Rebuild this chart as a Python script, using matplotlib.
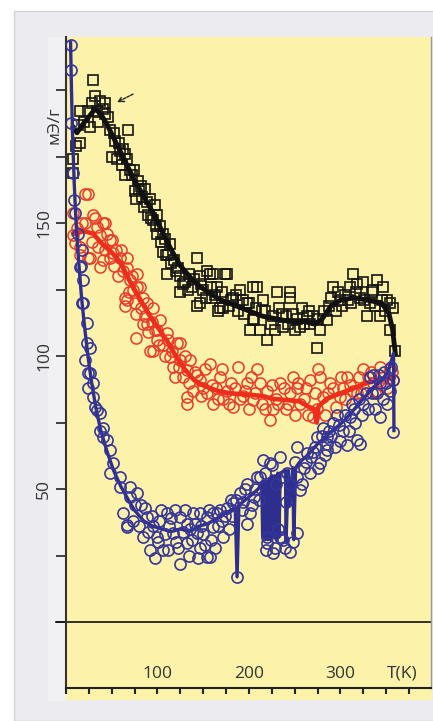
import matplotlib.pyplot as plt
from matplotlib.patches import Rectangle
from matplotlib.transforms import blended_transform_factory

# black squares (T, value)
black_t = [8, 8, 11, 13, 15, 15, 24, 28, 29.5, 32, 34, 37, 43, 43, 48, 50, 54, 56, 59, 61,
           64, 68, 70, 75, 79, 83, 86, 90, 92, 97, 100, 103, 106, 106, 108, 110, 114, 125, 125, 143,
           143, 146, 146, 154, 157, 161, 165, 166, 168, 174, 176, 183, 190, 198, 201, 204, 204, 209, 212, 215,
           220, 226, 231, 237, 245, 245, 248, 256, 263, 267, 274, 278, 285, 292, 299, 310, 314, 321, 325, 329,
           340, 343, 347, 351, 354, 354, 360,
           65, 72, 80, 88, 95, 100, 112, 118, 120, 130, 135, 138, 150, 160, 170, 178, 188, 193, 208, 218,
           224, 233, 240, 252, 258, 270, 282, 288, 295, 305, 317, 332, 336, 357,
           20, 26, 35, 40, 46, 52, 58, 62, 67, 74, 77, 82, 85, 93, 98, 104, 109, 115, 122, 128,
           133, 140, 148, 153, 158, 163, 172, 180, 186, 195, 200, 206, 214, 228, 236, 243, 250, 260, 266, 276,
           290, 297, 302, 308, 312, 318, 326, 334, 338, 345, 349]
black_v = [174, 169, 179, 187, 192, 180, 192, 195, 204, 198, 192, 196, 195, 191, 185, 175, 181, 174, 177, 172,
           168, 185, 170, 162, 166, 160, 163, 153, 159, 157, 153, 149, 146, 139, 144, 131, 142, 124, 130, 137,
           119, 130, 120, 132, 131, 131, 126, 117, 118, 131, 131, 122, 125, 120, 110, 126, 113.5, 126, 110, 121,
           106, 115, 124, 111, 122, 124, 116, 111, 115, 112, 103, 110, 113.5, 126, 121, 126, 131, 122, 128, 115,
           128.5, 115, 126, 121, 120, 110, 102,
           176, 168, 163, 158, 151, 146, 138, 136, 132, 128, 131, 126, 125, 122, 124, 119, 117, 121, 118, 117,
           112, 118, 115, 114, 118, 115, 117, 119, 117, 123, 124, 120, 125, 118,
           188, 186, 188, 193, 190, 184, 180, 178, 174, 170, 159, 164, 156, 152, 149, 143, 138, 135, 133, 127,
           125, 129, 127, 122, 126, 123, 118, 121, 123, 116, 120, 114, 117, 110, 116, 112, 110, 112, 117, 114,
           122, 124, 119, 121, 120, 127, 121, 124, 119, 121, 117]
black_line_t = [8, 12, 18, 25, 32, 38, 45, 55, 65, 75, 85, 95, 105, 115, 125, 140, 155, 170, 185, 200,
                215, 230, 245, 260, 272, 280, 290, 300, 315, 330, 345, 353, 357, 360]
black_line_v = [186, 184, 187, 190, 193, 191, 187, 180, 173, 166, 160, 154, 147, 140, 134, 128, 124, 121, 119, 117,
                115, 114, 113, 113, 112, 114, 119, 121, 122, 121, 120, 116, 110, 101]

# red circles
red_t = [8, 8, 10, 15, 15, 21, 21, 24, 24, 26, 32, 34, 37, 37, 40, 40, 43, 43, 48, 48,
         50, 51, 59, 62, 64, 64, 67, 67, 67, 70, 77, 77, 78, 78, 81, 84, 84, 88, 88, 92,
         95, 95, 99, 103, 110, 114, 117, 121, 125, 125, 132, 132, 132, 136, 139, 146, 154, 157, 161, 168,
         176, 183, 188, 198, 204, 209, 220, 223, 226, 234, 245, 248, 256, 267, 270, 278, 281, 292, 299, 307,
         314, 325, 336, 343, 351, 354, 358,
         55, 73, 100, 106, 128, 143, 150, 164, 172, 180, 193, 200, 214, 230, 240, 252, 260, 274, 286, 303,
         318, 330, 340, 347,
         12, 18, 28, 30, 35, 45, 53, 57, 60, 69, 72, 75, 82, 86, 90, 94, 97, 102, 108, 112,
         116, 119, 123, 130, 135, 141, 148, 152, 160, 166, 170, 178, 185, 190, 196, 202, 207, 212, 218, 225,
         232, 238, 243, 250, 254, 262, 265, 272, 276, 283, 289, 295, 301, 305, 310, 320, 323, 333, 338, 345, 356]
red_v = [154, 145.5, 142.5, 141, 138, 161, 150, 161, 137, 137, 152, 148.5, 145.5, 133.5, 150, 136, 150, 140, 143.6, 137,
         143.6, 138.7, 137, 132, 122, 119, 137, 133, 121, 128.6, 116, 107, 131, 126, 126, 122, 112, 120, 112, 102,
         118, 102, 106, 113.5, 108.6, 99.6, 96, 105, 98.5, 105, 94.7, 82, 84.6, 98.5, 87, 91, 86, 97, 82, 92,
         87, 81, 96, 90, 83.5, 95, 87, 76, 80, 90, 86, 92, 82, 91, 77, 92, 84.6, 88, 84.6, 92,
         87, 95, 90, 96, 88, 95, 91,
         140, 125, 110, 104, 92, 93, 88, 88, 84, 90, 85, 80, 82, 84, 80, 88, 84, 80, 86, 88,
         86, 92, 87, 92,
         148, 150, 143, 153, 141, 146, 134, 130, 140, 124, 130, 120, 118, 115, 109, 113, 110, 104, 100, 106,
         102, 92, 96, 100, 90, 94, 85, 95, 89, 84, 95, 82, 88, 84, 87, 92, 86, 90, 80, 89,
         82, 88, 82, 78, 90, 88, 78, 86, 95, 78, 90, 81, 92, 84, 89, 92, 86, 94, 86, 89, 94]
red_line_t = [8, 20, 30, 40, 50, 60, 70, 80, 90, 100, 110, 120, 130, 140, 150, 165, 180, 200, 215, 225,
              240, 255, 265, 272, 274, 276, 285, 300, 315, 330, 345, 358]
red_line_v = [146, 147, 146, 142, 139, 135, 128, 122, 116, 111, 106, 100, 95, 91, 89, 87, 86, 85.5, 85, 84,
              83.5, 83, 81, 80, 75, 81, 84, 86, 88, 90, 91, 92]

# blue circles
blue_t = [5.5, 5.5, 5.5, 7.7, 8.7, 10, 13, 15, 16, 17, 17.5, 18.5, 19, 21, 23, 23, 24, 24, 26, 26,
          30, 30, 32, 34, 37, 37, 40, 40, 45, 48, 48, 51, 59, 59, 62, 67, 67, 70, 70, 73,
          78, 88, 92, 99, 106, 110, 117, 125, 125, 132, 132, 139, 143, 146, 146, 154, 154, 157, 161, 161,
          165, 168, 172, 176, 183, 187, 190, 198, 198, 201, 209, 212, 215, 220, 220, 223, 225, 226, 234, 234,
          237, 237, 241, 242, 245, 245, 252, 252, 252, 256, 263, 267, 274, 278, 281, 285, 285, 285, 292, 303,
          307, 310, 318, 321, 325, 332, 336, 340, 343, 343, 351, 354, 358, 358,
          82, 95, 102, 113, 120, 136, 150, 170, 180, 194, 205, 230, 260, 270, 290, 296, 300, 315, 328, 348,
          75, 80, 84, 86, 90, 94, 97, 101, 104, 108, 111, 115, 119, 122, 128, 130, 134, 138, 141, 144,
          148, 152, 156, 159, 163, 166, 174, 178, 182, 186, 192, 196, 203, 207, 211, 217, 219, 228, 232, 239,
          248, 250, 258, 262, 268, 272, 276, 280, 283, 288, 294, 298, 305, 309, 313, 316, 320, 324, 330, 334,
          338, 342, 346, 350, 355]
blue_v = [217, 207.5, 187.6, 169, 158.6, 153.8, 146, 133.5, 134, 140, 120, 128.6, 120, 98.5, 112.4, 105, 93.6, 88, 103, 93.6,
          90, 84.6, 81, 79.7, 78.6, 72, 73, 69.5, 68.4, 64.7, 56, 59.8, 54.5, 50.8, 41, 36.5, 35.7, 50.8, 47, 38,
          48.5, 39.5, 27, 32, 27, 41, 33.5, 39.5, 22, 29.7, 37, 41, 33.5, 28, 41, 39.5, 24.4, 24.4, 35.7, 41,
          41, 42, 32, 43, 44.7, 17, 48.5, 37, 52, 41, 54.5, 54.5, 61, 32, 29.7, 59.8, 59, 26, 62, 32,
          54.5, 31, 45, 56, 26.3, 52, 33.5, 54.5, 65.8, 49.6, 63.5, 56, 69.5, 59.8, 73, 64.7, 67, 69.5, 75, 72,
          66.5, 77, 68.4, 67, 82, 92, 93, 86, 77, 90, 82, 87, 91, 71.4,
          44, 36, 38, 36, 30, 35, 33, 38, 46, 45, 47, 52, 58, 64, 70, 78, 68, 80, 86, 94,
          44, 36, 32, 43, 34, 40, 24, 30, 42, 33, 27, 39, 42, 28, 34, 42, 25, 31, 37, 24,
          36, 29, 42, 31, 28, 36, 40, 35, 40, 46, 42, 50, 44, 50, 46, 56, 27, 28, 35, 28,
          30, 60, 52, 60, 62, 66, 58, 70, 63, 72, 66, 74, 78, 72, 82, 75, 84, 78, 80, 86,
          80, 93, 84, 90, 96]
blue_line_t = [5, 6, 7, 9, 11, 14, 17, 20, 24, 28, 33, 38, 45, 52, 60, 68, 75, 85, 95, 105,
               115, 125, 135, 145, 155, 165, 175, 185, 187, 189, 200, 210, 214, 215, 216.5, 218, 219.5, 221, 222.5, 224,
               225.5, 227, 228.5, 230, 231.5, 233, 234, 240, 240.5, 243, 244, 248, 249, 251, 255, 265, 275, 285, 295, 305,
               315, 325, 335, 345, 352, 358, 358.5]
blue_line_v = [218, 200, 185, 165, 150, 135, 122, 112, 100, 90, 80, 72, 64, 57, 51, 46, 42, 38, 36, 35,
               34, 35, 34, 36, 37, 39, 41, 43, 17, 44, 47, 50, 52, 32, 53, 31, 53, 31, 54, 31,
               55, 32, 55, 31, 56, 32, 56, 57, 30, 57, 44, 58, 31, 58, 60, 63, 67, 70, 73, 76,
               80, 84, 88, 91, 94, 101, 72]

x_labels = ['100', '200', '300']
x_label_pos = [100, 200, 300]

fig = plt.figure(figsize=(4.33, 7.21), dpi=100, facecolor='white')
plt.rcParams['font.family'] = ['Open Sans', 'DejaVu Sans']

# grey card behind the chart
fig.patches.append(Rectangle((14 / 433, 0), 1, 710 / 721, transform=fig.transFigure,
                             facecolor='#ececf0', edgecolor='#d2d2d6', lw=1, zorder=-3))
fig.patches.append(Rectangle((48 / 433, 20 / 721), 18 / 433, 664 / 721, transform=fig.transFigure,
                             facecolor='#f1f1f3', edgecolor='none', zorder=-2))
fig.patches.append(Rectangle((66 / 433, 21 / 721), 366 / 433, 20 / 721, transform=fig.transFigure,
                             facecolor='#fcf2aa', edgecolor='none', zorder=-2))

ax = fig.add_axes([66 / 433, 33 / 721, 365 / 433, 651 / 721])
ax.set_facecolor('#fcf2aa')
ax.set_xlim(0, 399)
ax.set_ylim(-24.8, 220)

# data
ax.plot(black_t, black_v, 's', ms=7.5, mfc='none', mec='#151515', mew=1.2, zorder=3)
ax.plot(black_line_t, black_line_v, '-', color='#111111', lw=3.5, zorder=4)
ax.plot(red_t, red_v, 'o', ms=8, mfc='none', mec='#ea3b2a', mew=1.1, zorder=3)
ax.plot(red_line_t, red_line_v, '-', color='#ef2d1c', lw=3.3, zorder=4)
ax.plot(blue_line_t, blue_line_v, '-', color='#2e2e8f', lw=2.4, zorder=5)
ax.plot(blue_t, blue_v, 'o', ms=8, mfc='none', mec='#35359a', mew=1.2, zorder=5)

# small arrow pointing at the peak
ax.annotate('', xy=(53, 195), xytext=(76, 199),
            arrowprops=dict(arrowstyle='->', lw=1, ls=(0, (2, 1)), color='#222222'))

ax.axhline(0, xmin=-0.027, xmax=1, color='#111111', lw=1.2, clip_on=False, zorder=2)

# axes styling
ax.spines['top'].set_visible(False)
ax.spines['right'].set_color('#9a9a9a')
ax.spines['right'].set_linewidth(1)
ax.spines['left'].set_color('#333333')
ax.spines['left'].set_linewidth(1.5)
ax.spines['bottom'].set_color('#222222')
ax.spines['bottom'].set_linewidth(1.5)

ax.set_yticks([0, 25, 50, 75, 100, 125, 150, 175, 200])
ax.set_yticklabels(['', '', '50', '', '100', '', '150', '', ''])
ax.tick_params(axis='y', direction='out', length=7, width=1.3, color='#333333',
               labelsize=12.5, labelcolor='#333333', pad=3)
plt.setp(ax.get_yticklabels(), rotation=90, va='center')

ax.set_xticks(list(range(0, 400, 25)))
ax.set_xticklabels([])
ax.tick_params(axis='x', direction='out', length=4, width=1.5, color='#222222')

for pos, lab in zip(x_label_pos, x_labels):
    ax.text(pos, -19.5, lab, ha='center', va='center', fontsize=12.5, color='#333333')
ax.text(368, -19.5, 'T(K)', ha='center', va='center', fontsize=12.5, color='#333333')

yl = blended_transform_factory(ax.transAxes, ax.transData)
ax.text(-0.032, 187, 'мЭ/г', transform=yl, rotation=90, ha='center', va='center',
        fontsize=12.5, color='#333333')

fig.savefig('out.png', dpi=100)
